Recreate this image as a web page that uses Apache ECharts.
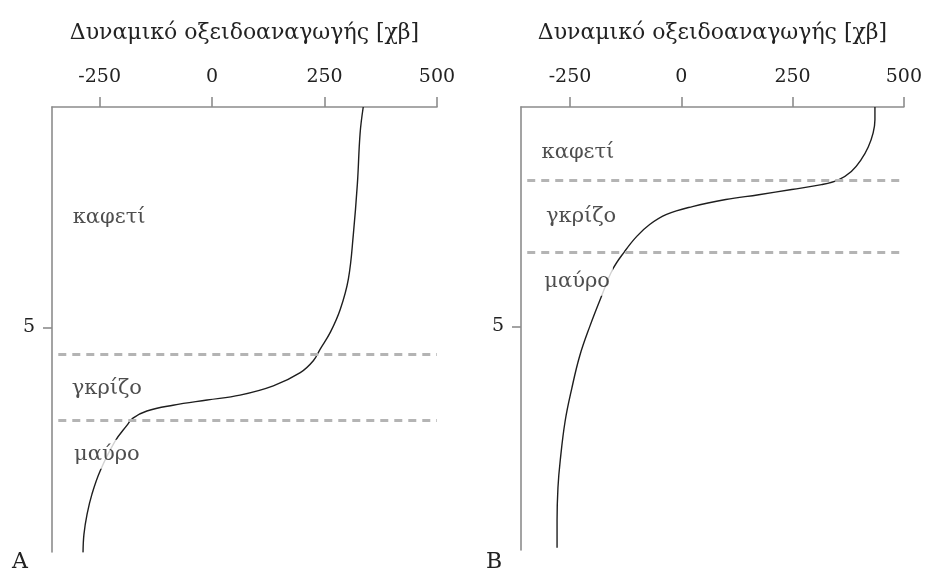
<!DOCTYPE html>
<html>
<head>
<meta charset="utf-8">
<script src="https://cdn.jsdelivr.net/npm/echarts@6/dist/echarts.min.js"></script>
<style>
  html, body { margin: 0; padding: 0; background: #fff; }
  #chart { width: 925px; height: 575px; }
</style>
</head>
<body>
<div id="chart"></div>
<script>
// Redox potential profiles of two sediment cores (A and B)
const axisTitle = 'Δυναμικό οξειδοαναγωγής [χβ]';
const xTicks = [-250, 0, 250, 500];
const yTicks = [5];
const layerNames = ['καφετί', 'γκρίζο', 'μαύρο'];

// Core A: depth and redox potential along the profile
const depthA = [0, 0.6, 1.74, 2.89, 3.9, 4.59, 5.11, 5.5, 5.76, 6.03, 6.33, 6.54, 6.65, 6.77, 6.9, 7.06, 7.22, 7.59, 8.26, 8.78, 9.24, 9.7, 10.11];
const redoxA = [336, 329, 323, 314, 303, 285, 263, 240, 225, 196, 136, 62, -11, -87, -145, -176, -189, -216, -249, -267, -278, -285, -287];
const boundariesA = [5.62, 7.12];

// Core B: depth and redox potential along the profile
const depthB = [0, 0.29, 0.59, 0.91, 1.2, 1.47, 1.66, 1.77, 1.88, 2.0, 2.11, 2.27, 2.45, 2.68, 2.95, 3.29, 3.7, 4.31, 4.99, 5.67, 6.42, 7.17, 8.07, 8.68, 9.43, 10.05];
const redoxB = [435, 435, 431, 420, 404, 382, 353, 315, 248, 174, 100, 25, -33, -71, -100, -127, -154, -179, -205, -228, -246, -261, -272, -277, -279, -279];
const boundariesB = [1.68, 3.31];

// where each layer name sits inside its panel (redox, depth)
const nameAnchorsA = [[-229, 2.51], [-234, 6.39], [-234, 7.88]];
const nameAnchorsB = [[-232, 1.04], [-225, 2.49], [-234, 3.97]];

const FONT = '"DejaVu Serif", "Liberation Serif", serif';
const AXIS_GRAY = '#8c8c8c';
const TEXT = '#222';

function zip(xs, ys) { return xs.map((x, i) => [x, ys[i]]); }

function xAxisFor(gridIndex, min) {
  return {
    type: 'value', gridIndex, position: 'top', min, max: 500,
    name: axisTitle, nameLocation: 'middle', nameGap: 63,
    nameTextStyle: { fontFamily: FONT, fontSize: 22, color: TEXT },
    axisLine: { show: true, onZero: false, lineStyle: { color: AXIS_GRAY, width: 1.6 } },
    axisTick: { show: true, length: 10, customValues: xTicks, lineStyle: { color: AXIS_GRAY, width: 1.6 } },
    axisLabel: { customValues: xTicks, margin: 20, fontFamily: FONT, fontSize: 19, color: TEXT },
    splitLine: { show: false }
  };
}

function yAxisFor(gridIndex) {
  return {
    type: 'value', gridIndex, inverse: true, min: 0, max: 10.1,
    axisLine: { show: true, onZero: false, lineStyle: { color: AXIS_GRAY, width: 1.6 } },
    axisTick: { show: true, length: 9, customValues: yTicks, lineStyle: { color: AXIS_GRAY, width: 1.6 } },
    axisLabel: { customValues: yTicks, margin: 17, fontFamily: FONT, fontSize: 19, color: TEXT },
    splitLine: { show: false }
  };
}

function panelSeries(idx, depth, redox, boundaries, anchors, xmin) {
  return [
    {
      type: 'line', xAxisIndex: idx, yAxisIndex: idx, z: 2,
      data: zip(redox, depth), showSymbol: false, symbol: 'none',
      smooth: 0.4,
      lineStyle: { color: '#1e1e1e', width: 1.4 },
      markLine: {
        silent: true, symbol: 'none', label: { show: false },
        lineStyle: { color: '#b4b4b4', width: 3, type: [8, 6] },
        data: boundaries.map(d => [{ coord: [xmin + 14, d] }, { coord: [500, d] }])
      }
    },
    {
      type: 'scatter', xAxisIndex: idx, yAxisIndex: idx, z: 10,
      symbolSize: 0, silent: true,
      data: anchors.map((p, i) => ({ value: p, name: layerNames[i] })),
      label: {
        show: true, position: 'inside', formatter: '{b}',
        fontFamily: FONT, fontSize: 21, color: TEXT,
        backgroundColor: '#fff', padding: [4, 3]
      }
    }
  ];
}

const chart = echarts.init(document.getElementById('chart'), null, { renderer: 'canvas' });
chart.setOption({
  animation: false,
  backgroundColor: '#fff',
  grid: [
    { left: 52, right: 488, top: 107, bottom: 23 },
    { left: 521, right: 21, top: 107, bottom: 25 }
  ],
  xAxis: [xAxisFor(0, -356), xAxisFor(1, -360)],
  yAxis: [yAxisFor(0), yAxisFor(1)],
  series: [
    ...panelSeries(0, depthA, redoxA, boundariesA, nameAnchorsA, -356),
    ...panelSeries(1, depthB, redoxB, boundariesB, nameAnchorsB, -360)
  ],
  graphic: [
    { type: 'text', left: 12, top: 551, style: { text: 'A', font: '22px ' + FONT, fill: TEXT } },
    { type: 'text', left: 486, top: 551, style: { text: 'B', font: '22px ' + FONT, fill: TEXT } }
  ]
});
</script>
</body>
</html>
